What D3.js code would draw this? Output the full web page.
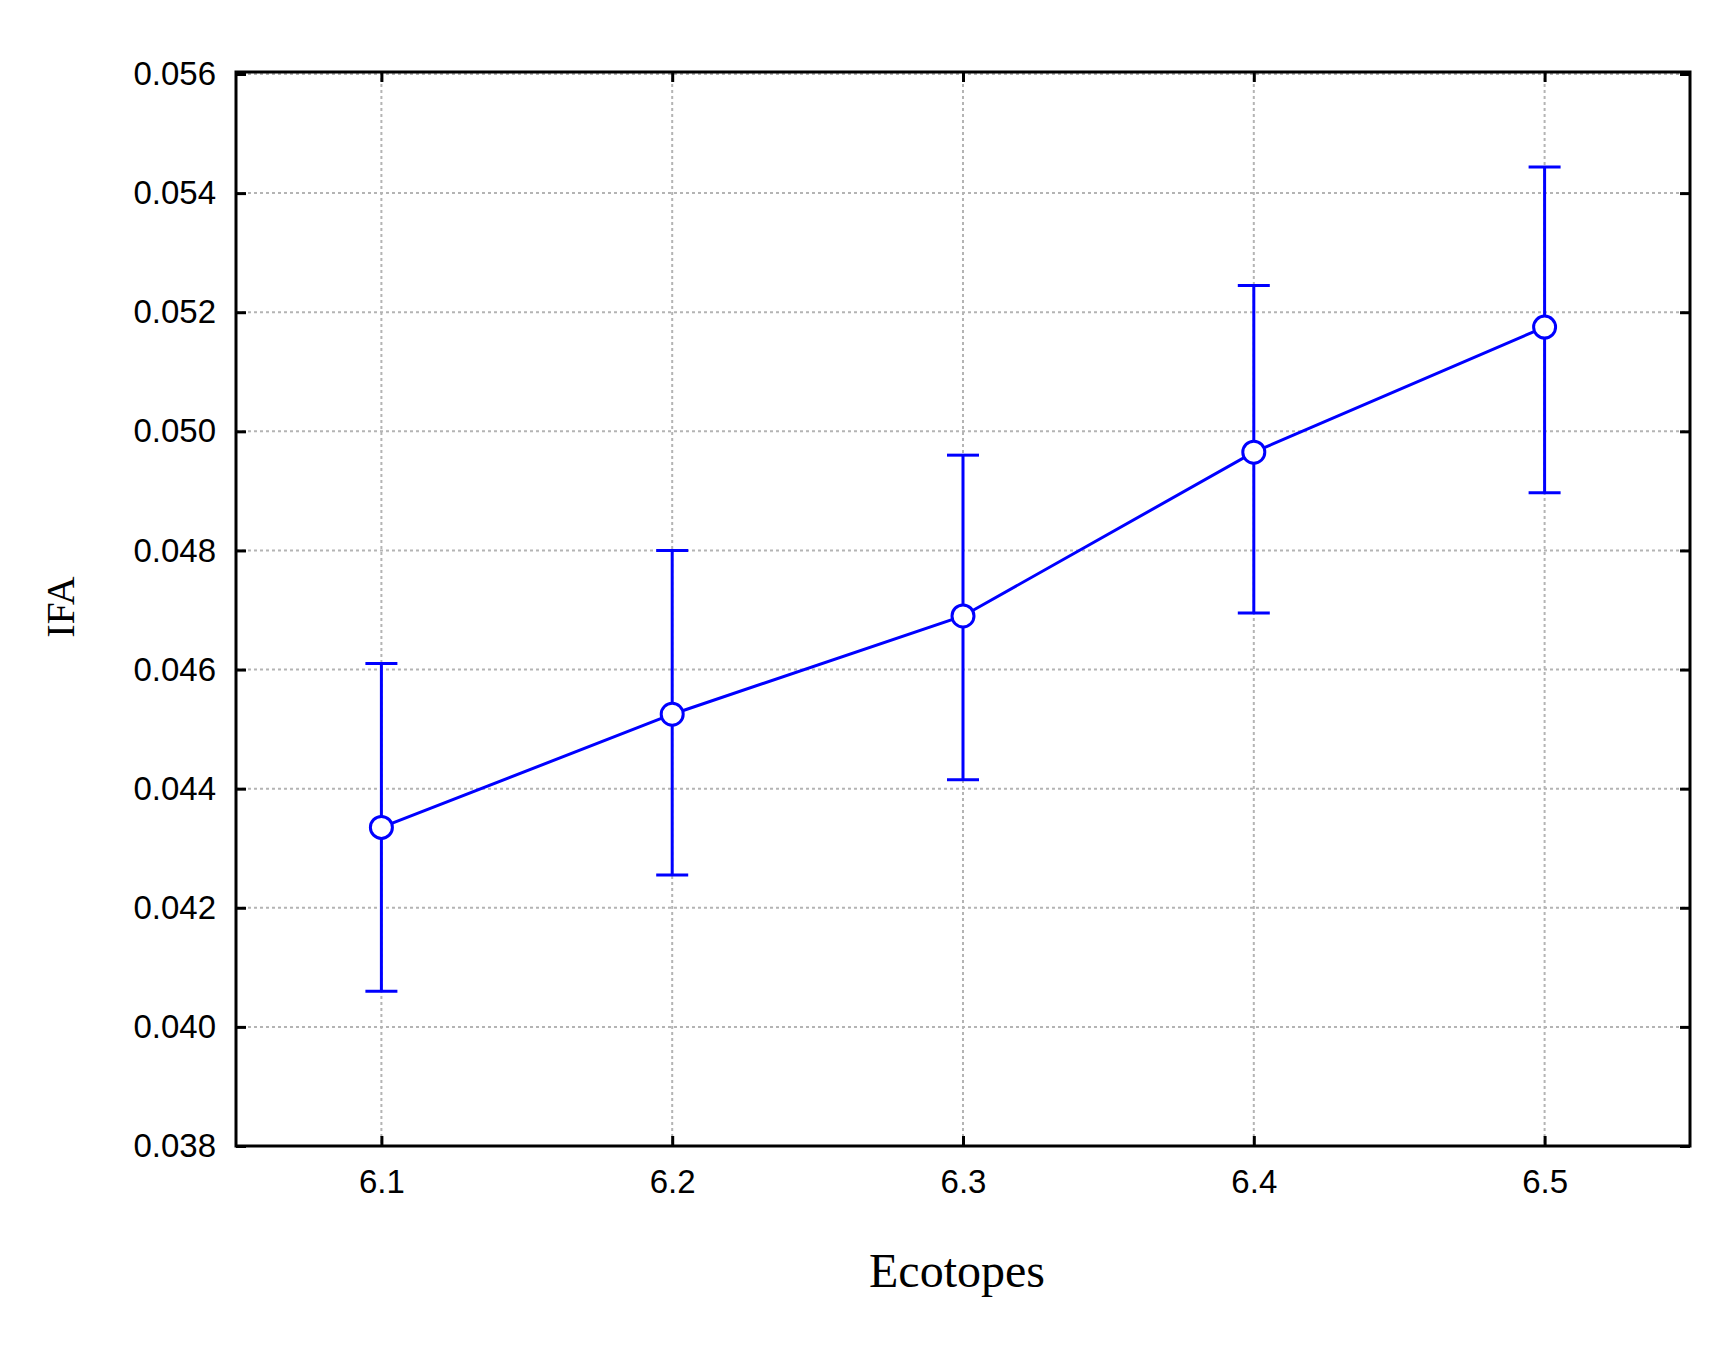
<!DOCTYPE html>
<html>
<head>
<meta charset="utf-8">
<script src="https://cdn.jsdelivr.net/npm/d3@7"></script>
<style>
  body { margin: 0; background: white; }
</style>
</head>
<body>
<svg id="chart" width="1735" height="1345"></svg>
<script>
const ecotopes = ["6.1", "6.2", "6.3", "6.4", "6.5"];
const means = [0.04335, 0.04525, 0.04690, 0.04965, 0.05175];
const upper = [0.04610, 0.04800, 0.04960, 0.05245, 0.05444];
const lower = [0.04060, 0.04255, 0.04415, 0.04695, 0.04897];
const yTicks = [0.038, 0.040, 0.042, 0.044, 0.046, 0.048, 0.050, 0.052, 0.054, 0.056];

const plotLeft = 236, plotRight = 1690, plotTop = 72, plotBottom = 1146;
const svg = d3.select("#chart");
svg.append("rect").attr("width", 1735).attr("height", 1345).attr("fill", "white");

const x = d3.scalePoint().domain(ecotopes).range([plotLeft, plotRight]).padding(0.5);
const y = d3.scaleLinear().domain([0.038, 0.056]).range([plotBottom, plotTop + 2]);

const blue = "#0000ff";

// grid
const grid = svg.append("g").attr("stroke", "#b4b4b4").attr("stroke-width", 2).attr("stroke-dasharray", "3,3");
grid.selectAll(".gy").data(yTicks.slice(1)).join("line")
  .attr("x1", plotLeft).attr("x2", plotRight).attr("y1", d => y(d)).attr("y2", d => y(d));
grid.selectAll(".gx").data(ecotopes).join("line")
  .attr("x1", d => x(d)).attr("x2", d => x(d)).attr("y1", plotTop).attr("y2", plotBottom);

// axes (ticks inward)
const tickStyle = g => {
  g.select(".domain").remove();
  g.selectAll(".tick line").attr("stroke", "#000").attr("stroke-width", 3);
};
svg.append("g").attr("transform", `translate(${plotLeft},0)`)
  .call(d3.axisLeft(y).tickValues(yTicks).tickFormat(d3.format(".3f")).tickSizeInner(-10).tickPadding(20))
  .call(tickStyle)
  .call(g => g.selectAll("text").attr("font-family", "Liberation Sans, Arial").attr("font-size", 33).attr("fill", "#000"));
svg.append("g").attr("transform", `translate(${plotRight},0)`)
  .call(d3.axisRight(y).tickValues(yTicks).tickFormat("").tickSizeInner(-10))
  .call(tickStyle);
svg.append("g").attr("transform", `translate(0,${plotBottom})`)
  .call(d3.axisBottom(x).tickSizeInner(-10).tickPadding(24))
  .call(tickStyle)
  .call(g => g.selectAll("text").attr("font-family", "Liberation Sans, Arial").attr("font-size", 33).attr("fill", "#000"));
svg.append("g").attr("transform", `translate(0,${plotTop})`)
  .call(d3.axisTop(x).tickFormat("").tickSizeInner(-10))
  .call(tickStyle);

svg.append("rect").attr("x", plotLeft).attr("y", plotTop).attr("width", plotRight - plotLeft).attr("height", plotBottom - plotTop)
  .attr("fill", "none").attr("stroke", "#000").attr("stroke-width", 3);

// error bars
const eb = svg.append("g").attr("stroke", blue).attr("stroke-width", 3);
ecotopes.forEach((c, i) => {
  eb.append("line").attr("x1", x(c)).attr("x2", x(c)).attr("y1", y(upper[i])).attr("y2", y(lower[i]));
  eb.append("line").attr("x1", x(c) - 16).attr("x2", x(c) + 16).attr("y1", y(upper[i])).attr("y2", y(upper[i]));
  eb.append("line").attr("x1", x(c) - 16).attr("x2", x(c) + 16).attr("y1", y(lower[i])).attr("y2", y(lower[i]));
});

// mean line
svg.append("path")
  .datum(ecotopes.map((c, i) => [x(c), y(means[i])]))
  .attr("d", d3.line())
  .attr("fill", "none").attr("stroke", blue).attr("stroke-width", 3);

svg.selectAll(".pt").data(ecotopes).join("circle")
  .attr("cx", d => x(d)).attr("cy", (d, i) => y(means[i])).attr("r", 11)
  .attr("fill", "white").attr("stroke", blue).attr("stroke-width", 3);

// titles
svg.append("text").attr("x", 957).attr("y", 1287).attr("text-anchor", "middle")
  .attr("font-family", "Liberation Serif, Times New Roman").attr("font-size", 48).text("Ecotopes");
svg.append("text").attr("transform", "translate(74,607) rotate(-90)").attr("text-anchor", "middle")
  .attr("font-family", "Liberation Serif, Times New Roman").attr("font-size", 40).text("IFA");
</script>
</body>
</html>
